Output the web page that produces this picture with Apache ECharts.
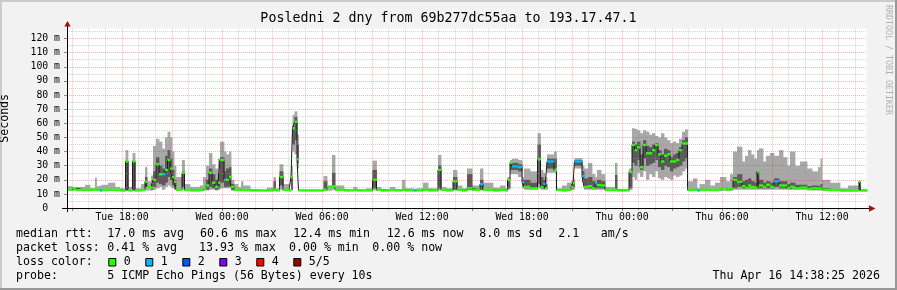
<!DOCTYPE html>
<html><head><meta charset="utf-8">
<script src="https://cdn.jsdelivr.net/npm/echarts@6/dist/echarts.min.js"></script>
<style>html,body{margin:0;padding:0;background:#f2f2f2}#c{width:897px;height:290px}</style>
</head><body><div id="c"></div><script>
// ---- data (hours since Tue 00:00; each value holds until the next time) ----
const hours = [14.70,15.00,15.24,15.78,16.08,16.38,16.47,16.68,16.80,17.16,
17.58,17.88,18.21,18.36,18.63,18.78,19.14,19.38,19.50,19.74,
19.86,20.04,20.22,20.40,20.58,20.73,20.88,21.00,21.12,21.24,
21.60,21.75,22.08,22.68,22.86,23.04,23.22,23.40,23.58,23.76,
23.88,24.12,24.24,24.42,24.54,24.72,24.96,25.14,25.26,25.68,
26.70,27.09,27.21,27.45,27.66,28.02,28.14,28.23,28.35,28.50,
28.59,30.09,30.30,30.60,30.78,31.32,31.86,32.10,32.64,33.03,
33.27,33.54,34.08,34.38,34.80,34.98,35.52,35.67,36.06,36.36,
36.96,37.14,37.44,37.86,38.10,38.40,38.70,39.00,39.48,39.66,
40.26,40.68,40.98,41.13,41.28,41.40,41.76,42.00,42.12,42.48,
42.93,43.11,43.26,43.38,43.50,43.92,44.07,44.40,44.70,44.94,
45.06,45.15,45.60,45.72,45.96,46.20,46.38,46.50,46.74,46.98,
47.58,47.70,48.42,48.60,48.75,48.90,49.08,49.26,49.44,49.62,
49.80,49.98,50.16,50.34,50.52,50.70,50.88,51.06,51.24,51.42,
51.60,51.78,51.93,52.26,52.50,52.65,52.98,53.28,53.58,53.88,
54.24,54.48,54.66,54.90,55.20,55.38,55.56,55.74,55.92,56.10,
56.22,56.46,56.64,56.88,57.12,57.42,57.66,57.90,58.08,58.38,
58.68,59.10,59.40,59.76,59.91,60.00,60.48,61.08,61.56,62.22,
62.31];
// smoke min / max (ms)
const lo = [12.3,12.3,12.3,12.3,12.3,12.3,12.3,12.3,12.3,12.3,
12.3,12.3,12.3,12.3,12.3,12.3,12.3,12.5,12.5,12.5,
13,14,15,13,15,16,15,14,13,12.3,
13,12.3,12.3,12.3,12.5,12.5,13,13,12.5,13,
14,14,14,14,12.3,12.3,12.3,12.3,12.3,12.3,
12.3,12.3,12.3,13,12.3,12.3,12.5,40,38,28,
12.3,12.3,12.3,13,12.3,12.3,12.3,12.3,12.3,12.5,
12.3,12.3,12.3,12.3,12.3,12.3,12.3,12.3,12.3,12.3,
12.5,12.3,12.3,12.5,12.3,12.3,12.5,12.3,12.5,12.3,
12.3,12.3,12.3,13,24,24,22,14,13,13,
14,13,13,13,25,25,12.3,12.3,12.3,13,
13,28,18,13,13,13,13,13,13,12.3,
12.3,12.3,13,22,20,25,22,26,20,24,
22,26,21,20,22,21,20,23,22,23,
26,28,12.3,12.3,12.3,12.3,12.3,12.3,12.3,12.3,
12.3,12.3,13,13,13,13,13,13,13,13,
13,13,13,13,13,13,13,13,13,13,
13,12.5,12.5,12.5,12.5,12.5,12.3,12.3,12.3,12.5,
12.3];
const hi = [15.5,15,15,16.5,14,21.5,15.5,16,16.5,18,
15,14,41,15,39,14,17,29,19,23,
44,49,47,42,50,54,50,40,30,22,
34,17,15,16,22,30,39,31,28,35,
47,40,38,40,20,17,15,19,16,12.3,
14.5,22,14,31,17,12.3,30,66,68.5,52,
12.3,22.7,16,37.6,16,12.3,15,12.3,14,33.6,
15,13.5,15,13.5,20,14,13.5,14,18,14,
37.6,15,14,27,16,14,28,16,28,18,
14.5,16,14,22,34,35,34,22,28,26,
53,27,25,22,38,40,14,16,18,19,
21,35.4,30,28,32,24,22,27,24,15,
32,13.5,28,56.5,56,55,53,55,54,52,
53,51,50,53,50,48,46,47,46,49,
54,55.7,19,21,14,17,20,16,18,22,
19,24,40,43.5,33,37,41,38,35,41,
42.3,33,37,39,37,41,36,30,40,30,
33,28,26,29,35,20,18,14,16,18.7,
13.5];
// dark (inner) smoke range
const dlo = [0,0,0,0,0,0,0,0,0,0,
0,0,12.5,0,12.5,0,0,15,0,13,
15,18,17,16,18,22,20,16,14,0,
15,0,0,0,0,13,15,14,13,14,
18,15,15,16,13,0,0,0,0,0,
0,13,0,16,0,0,13,45,48,32,
0,13,0,16,0,0,0,0,0,14,
0,0,0,0,0,0,0,0,0,0,
14,0,0,13,0,0,13,0,13,0,
0,0,0,14,27,27,26,16,14,13.5,
17,14,14,13.5,28,28,0,0,0,14,
15,30,20,14,14,14,14,14,14,0,
13,0,14,32,30,34,27,35,30,31,
32,34,29,27,30,29,26,28,29,30,
33,35,0,0,0,0,0,0,0,0,
0,0,14,15,14,14,15,14,14,14,
14,14,14,14,15,14,14,14,14,14,
13.5,13,13,13,13,13,0,0,0,12.5,
0];
const dhi = [0,0,0,0,0,0,0,0,0,0,
0,0,33,0,33,0,0,22,0,17,
26,36,30,28,37,41,35,27,20,0,
26,0,0,0,0,20,28,24,20,25,
36,26,28,29,17,0,0,0,0,0,
0,19,0,26,0,0,22,58,64.5,45,
0,19,0,25,0,0,0,0,0,27,
0,0,0,0,0,0,0,0,0,0,
30,0,0,22,0,0,24,0,20,0,
0,0,0,19,32,32,31,20,20,18,
45,22,20,17,35,35,0,0,0,17,
19,34,26,21,22,19,18,20,19,0,
23.4,0,26,47,45,47,38,48,44,43,
45,46,41,38,42,41,36,38,39,43,
48,50,0,0,0,0,0,0,0,0,
0,0,22,24,19,20,21,19,18,26,
20,18,19,18,21,19,19,17,18,16.5,
16.5,15.5,16,15.5,17,14,0,0,0,18.7,
0];
// median rtt (ms)
const med = [13,14,12.8,12.8,13.2,13.5,12.8,12.5,12.8,13,
12.8,12.5,33,12.5,33,12.5,12.8,18.7,15,14.5,
20,31,24,24,27,34,28,22,18.7,13,
25,12.8,12.5,12.8,14,16,25,18,15,18,
34,20,20,22,15,13,12.8,13,12.8,12.5,
12.5,13,12.5,22,12.8,12.5,22,56.5,61,34.5,
12.5,13,15,15,13,12.5,12.8,12.5,12.5,20,
13,12.5,12.8,12.5,13,12.5,12.5,12.5,13,12.5,
27,13,12.5,19,13,12.5,14,13,17,13,
12.5,13,12.5,20,32,29.5,29,18.5,15,14,
34.5,15,17,14,33,26.5,12.8,12.5,13,15,
17.8,33,22.7,15,15.5,14,17.5,16.3,16,12.8,
13,12.5,25.8,44.7,41,43,29,44.7,38.8,38.8,
41,44.7,38,33,37,38,33,33,34,41,
45.8,45.8,12.8,13,12.5,12.8,13,12.8,12.8,13.5,
13,14,20,18.7,15.5,14.5,16,15,14.5,25.8,
16,15,16.5,15,19,16,16,14,15,14,
14.5,13.5,14,13.5,14,13,12.8,12.4,12.4,18.7,
12.4];
// lost packets (of 5)
const loss = [0,0,0,0,0,0,0,1,0,0,
0,0,0,0,0,0,0,0,0,0,
0,0,0,1,0,0,0,0,0,0,
0,0,0,0,0,0,0,0,0,0,
0,1,0,0,0,0,0,0,0,0,
0,0,0,0,0,0,0,0,0,0,
0,0,0,0,0,0,0,0,0,0,
0,0,0,0,0,0,1,0,0,0,
0,0,0,0,0,0,0,0,1,0,
0,0,0,0,0,1,1,1,0,0,
0,0,1,0,1,0,0,0,0,0,
0,1,1,0,0,0,1,0,0,0,
0,0,0,0,0,0,0,0,0,0,
0,0,0,0,0,0,0,0,0,0,
0,0,0,0,1,0,0,0,0,0,
0,0,0,0,0,0,0,0,0,0,
0,0,0,0,1,0,0,0,0,0,
0,0,0,0,0,0,0,0,0,0,
0];
const XMIN = 14.7, XMAX = 62.7;
const tickHours = [18,24,30,36,42,48,54,60];
const tickLabels = ['Tue 18:00','Wed 00:00','Wed 06:00','Wed 12:00','Wed 18:00','Thu 00:00','Thu 06:00','Thu 12:00'];
const yTicks = [0,10,20,30,40,50,60,70,80,90,100,110,120];
const yMinor = [5,15,25,35,45,55,65,75,85,95,105,115,125];
const lossLabels = ['0','1','2','3','4','5/5'];
const lossColors = ['#26ff00','#00b8ff','#0059ff','#7e00ff','#ff0000','#a10000'];
const titleText = 'Posledni 2 dny from 69b277dc55aa to 193.17.47.1';
const row1 = [[16,'median rtt:'],[107.3,'17.0 ms avg'],[200,'60.6 ms max'],[293.3,'12.4 ms min'],[386.7,'12.6 ms now'],[479.3,'8.0 ms sd'],[558.3,'2.1'],[600.7,'am/s']];
const row2 = [[16,'packet loss:'],[107.3,'0.41 % avg'],[199,'13.93 % max'],[289,'0.00 % min'],[372.3,'0.00 % now']];
const row4 = [[16,'probe:'],[107.3,'5 ICMP Echo Pings (56 Bytes) every 10s']];
const dateText = 'Thu Apr 16 14:38:25 2026';

// ---- build ----
const majorHours = [], minorHours = [];
for (let h = 15; h <= 62; h++) (h % 3 === 0 ? majorHours : minorHours).push(h);
const segEnd = hours.map((h, i) => i + 1 < hours.length ? hours[i + 1] : XMAX);
const smoke = hours.map((h, i) => [h, segEnd[i], lo[i], hi[i]]);
const dark = hours.map((h, i) => [h, segEnd[i], dlo[i], dhi[i]]);
const medSeg = hours.map((h, i) => [h, segEnd[i], med[i], loss[i]]);
const medLine = hours.map((h, i) => [h, med[i]]).concat([[XMAX, med[med.length - 1]]]);

const F = '"DejaVu Sans Mono", monospace';
const majorGrid = {color: 'rgba(255,0,0,0.3)', width: 1, type: [1, 1]};
const minorGrid = {color: 'rgba(150,150,150,0.42)', width: 1, type: [1, 1]};

function bandItem(fill) {
  return function (params, api) {
    const a = api.coord([api.value(0), api.value(2)]);
    const b = api.coord([api.value(1), api.value(3)]);
    if (a[1] - b[1] < 0.2) return {type: 'group', children: []};
    return {type: 'rect', shape: {x: a[0], y: b[1], width: b[0] - a[0] + 0.4, height: a[1] - b[1]}, style: {fill: fill}};
  };
}

const g = [];
// frame
g.push({type: 'rect', shape: {x: 0, y: 0, width: 897, height: 2}, style: {fill: '#cbcbcb'}});
g.push({type: 'rect', shape: {x: 0, y: 0, width: 2, height: 290}, style: {fill: '#cbcbcb'}});
g.push({type: 'rect', shape: {x: 0, y: 288, width: 897, height: 2}, style: {fill: '#999'}});
g.push({type: 'rect', shape: {x: 895, y: 0, width: 2, height: 290}, style: {fill: '#999'}});
// title
g.push({type: 'text', x: 448.5, y: 19, style: {text: titleText, font: '13.3px ' + F, fill: '#000', textAlign: 'center', textVerticalAlign: 'middle'}});
// watermark
g.push({type: 'text', x: 888, y: 5, rotation: -Math.PI / 2, style: {text: 'RRDTOOL / TOBI OETIKER', font: '8.3px ' + F, fill: '#b0b0b0', textAlign: 'left', textVerticalAlign: 'middle'}});
// axis lines + arrows
g.push({type: 'line', z: 50, shape: {x1: 62, y1: 208.5, x2: 870, y2: 208.5}, style: {stroke: '#000', lineWidth: 1}});
g.push({type: 'line', z: 50, shape: {x1: 67.5, y1: 212, x2: 67.5, y2: 26}, style: {stroke: '#000', lineWidth: 1}});
g.push({type: 'polygon', z: 50, shape: {points: [[64.3, 26.5], [70.7, 26.5], [67.5, 21]]}, style: {fill: '#9b1111'}});
g.push({type: 'polygon', z: 50, shape: {points: [[869, 205.3], [869, 211.7], [875.5, 208.5]]}, style: {fill: '#9b1111'}});
// legend texts
const LF = '11.6px ' + F;
function rowText(items, y) {
  items.forEach(it => g.push({type: 'text', x: it[0], y: y, style: {text: it[1], font: LF, fill: '#000', textVerticalAlign: 'middle'}}));
}
rowText(row1, 234.3);
rowText(row2, 248.3);
rowText([[16, 'loss color:']], 262.3);
lossLabels.forEach((lab, i) => {
  const bx = 108.3 + i * 37;
  g.push({type: 'rect', shape: {x: bx + 0.5, y: 258.5, width: 7, height: 7.5}, style: {fill: lossColors[i], stroke: '#000', lineWidth: 1}});
  g.push({type: 'text', x: bx + 15.5, y: 262.3, style: {text: lab, font: LF, fill: '#000', textVerticalAlign: 'middle'}});
});
rowText(row4, 276.3);
g.push({type: 'text', x: 880, y: 276.3, style: {text: dateText, font: LF, fill: '#000', textAlign: 'right', textVerticalAlign: 'middle'}});

const option = {
  backgroundColor: '#f2f2f2',
  animation: false,
  grid: {left: 67, right: 30, top: 28.6, bottom: 81.9, show: true, backgroundColor: '#ffffff', borderWidth: 0, outerBoundsMode: 'none'},
  xAxis: [
    {type: 'value', min: XMIN, max: XMAX, position: 'bottom', z: 3,
     axisLine: {show: false, onZero: false},
     axisTick: {show: true, customValues: majorHours, length: 3, lineStyle: {color: 'rgba(220,0,0,0.6)'}},
     splitLine: {show: true, lineStyle: majorGrid},
     axisLabel: {show: true, customValues: tickHours, margin: 4, color: '#000', fontFamily: F, fontSize: 9.8,
       formatter: v => { const i = tickHours.findIndex(h => Math.abs(h - v) < 1e-6); return i >= 0 ? tickLabels[i] : ''; }}},
    {type: 'value', min: XMIN, max: XMAX, position: 'bottom', z: 3,
     axisLine: {show: false, onZero: false},
     axisTick: {show: true, customValues: minorHours, length: 2, lineStyle: {color: '#aaa'}},
     splitLine: {show: true, lineStyle: minorGrid},
     axisLabel: {show: false}}
  ],
  yAxis: [
    {type: 'value', min: 0, max: 127, position: 'left', z: 3,
     name: 'Seconds', nameLocation: 'middle', nameGap: 56, nameTextStyle: {fontFamily: F, fontSize: 11.6, color: '#000'},
     axisLine: {show: false, onZero: false},
     axisTick: {show: true, customValues: yTicks, length: 3, lineStyle: {color: '#888'}},
     splitLine: {show: true, lineStyle: majorGrid},
     axisLabel: {show: true, customValues: yTicks, margin: 7, color: '#000', fontFamily: F, fontSize: 9.8,
       formatter: v => v === 0 ? '0  ' : v + ' m'}},
    {type: 'value', min: 0, max: 127, position: 'left', z: 3,
     axisLine: {show: false, onZero: false},
     axisTick: {show: false, customValues: yMinor},
     splitLine: {show: true, lineStyle: minorGrid},
     axisLabel: {show: false}}
  ],
  graphic: g,
  series: [
    {type: 'custom', name: 'smoke', xAxisIndex: 0, yAxisIndex: 0, data: smoke, encode: {x: [0, 1], y: [2, 3]}, renderItem: bandItem('#a8a8a8'), z: 1},
    {type: 'custom', name: 'smoke dark', xAxisIndex: 0, yAxisIndex: 0, data: dark, encode: {x: [0, 1], y: [2, 3]}, renderItem: bandItem('#5a5a5a'), z: 1},
    {type: 'line', name: 'median', xAxisIndex: 0, yAxisIndex: 0, data: medLine, step: 'end', symbol: 'none',
     lineStyle: {color: '#1a1a1a', width: 1}, z: 1},
    {type: 'custom', name: 'median loss', xAxisIndex: 0, yAxisIndex: 0, data: medSeg, encode: {x: [0, 1], y: 2}, z: 2,
     renderItem: function (params, api) {
       const a = api.coord([api.value(0), api.value(2)]);
       const b = api.coord([api.value(1), api.value(2)]);
       return {type: 'rect', shape: {x: a[0], y: a[1] - 1.2, width: b[0] - a[0] + 0.4, height: 2.4}, style: {fill: lossColors[api.value(3)]}};
     }}
  ]
};
const chart = echarts.init(document.getElementById('c'));
chart.setOption(option);
</script></body></html>
